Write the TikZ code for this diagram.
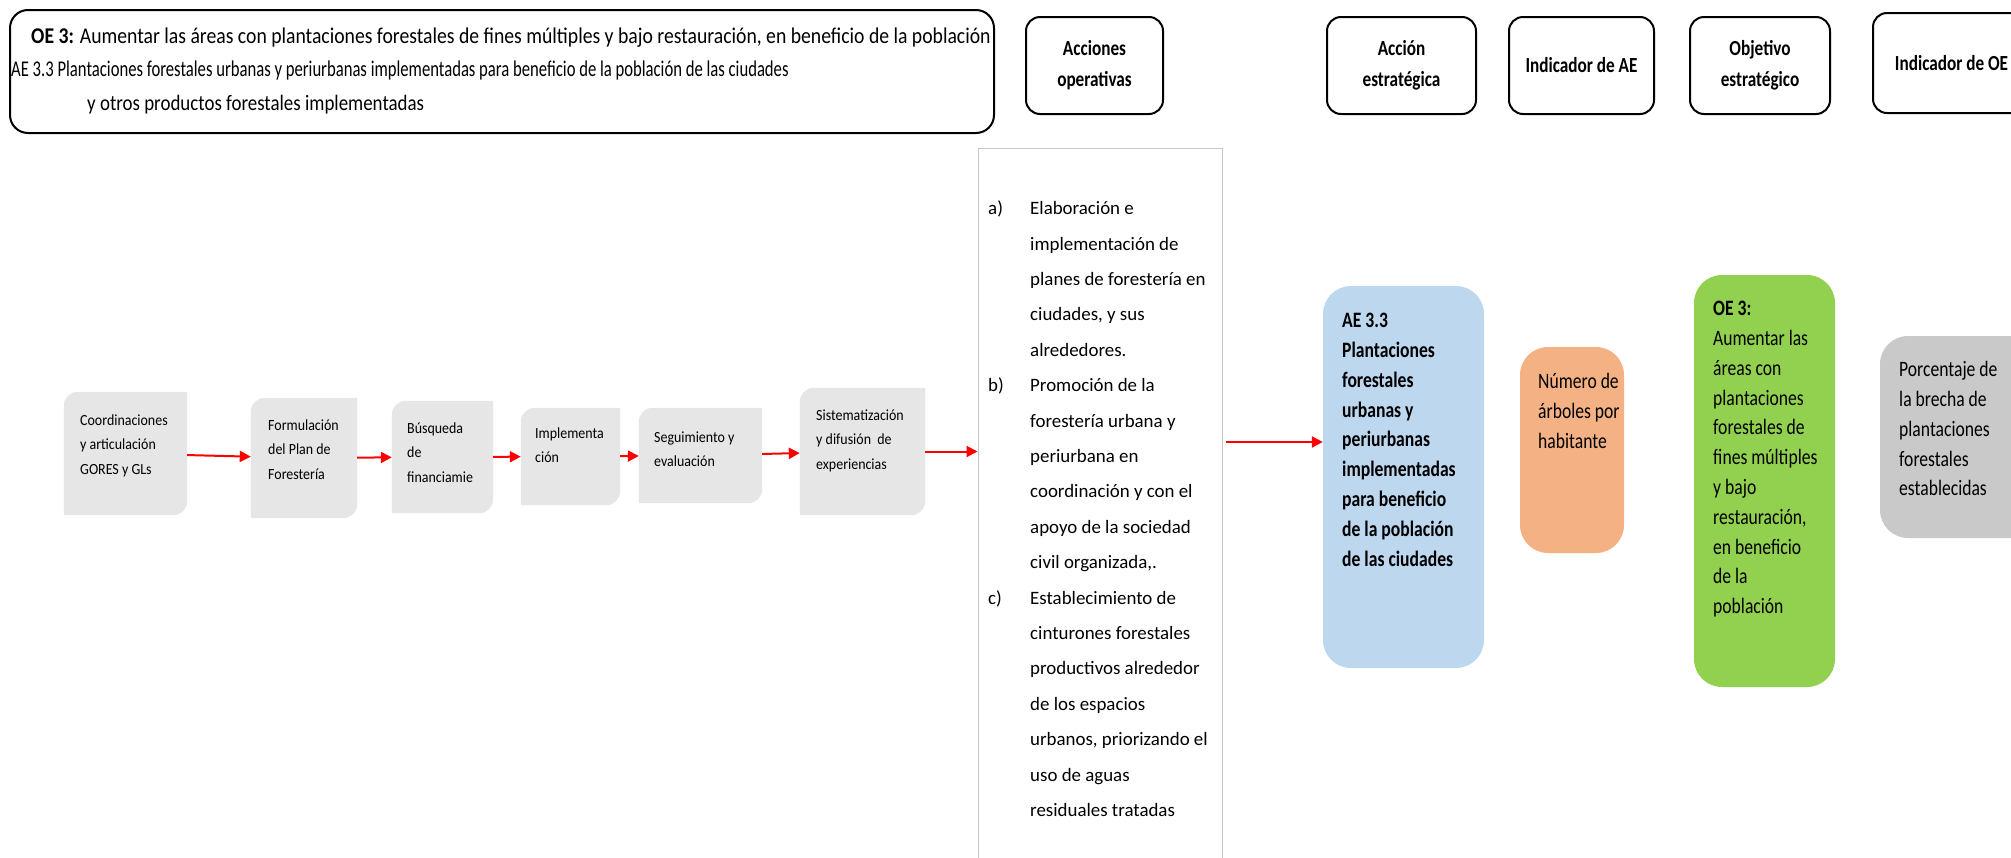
\documentclass[tikz,border=0pt]{standalone}
\usepackage{fontspec}
\setmainfont{Carlito}
\newfontfamily\narrowfont[FakeStretch=0.8]{Carlito}
\newfontfamily\titlefont[FakeStretch=0.86]{Carlito}
\newfontfamily\titlewidefont[FakeStretch=0.875]{Carlito}
\newfontfamily\narrowerfont[FakeStretch=0.74]{Carlito}
\newfontfamily\flowfont[FakeStretch=0.9]{Carlito}
\usetikzlibrary{arrows.meta}
\definecolor{flowgray}{HTML}{E7E6E6}
\definecolor{aeblue}{HTML}{BDD7EE}
\definecolor{indorange}{HTML}{F4B183}
\definecolor{oegreen}{HTML}{92D050}
\definecolor{ioegray}{HTML}{C9C9C9}
\newcommand{\boxlines}[1]{\begin{tabular}[t]{@{}l@{}}#1\end{tabular}}

\begin{document}
\begin{tikzpicture}[x=1pt, y=-1pt,
	hdr/.style={rectangle, draw=black, line width=2pt, rounded corners=14pt, align=center, inner sep=0pt,
		font=\narrowfont\fontsize{21.5}{31}\selectfont\bfseries},
	flow/.style={rectangle, inner sep=0pt},
	colbox/.style={rectangle, rounded corners=28pt, inner sep=0pt},
	txt/.style={anchor=base west, inner sep=0pt},
	flowtxt/.style={txt, font=\flowfont\fontsize{15.5}{24.5}\selectfont},
	coltxt/.style={txt, font=\narrowfont\fontsize{22}{29.8}\selectfont},
	link/.style={red, line width=2pt, -{Triangle[length=11pt, width=11pt]}}]
	\useasboundingbox (0,0) rectangle (2011,857);

	% title box
	\node (title) at (502,71.5) [rectangle, draw=black, line width=2pt, rounded corners=18pt,
		minimum width=984pt, minimum height=123pt] {};
	\node (l1) at (31,43) [txt, font=\titlewidefont\fontsize{22.5}{30}\selectfont]
		{\textbf{OE 3:} Aumentar las áreas con plantaciones forestales de fines múltiples y bajo restauración, en beneficio de la población};
	\node (l2) at (11,76) [txt, font=\narrowerfont\fontsize{22.5}{30}\selectfont]
		{AE 3.3 Plantaciones forestales urbanas y periurbanas implementadas para beneficio de la población de las ciudades};
	\node (l3) at (87,110) [txt, font=\titlefont\fontsize{22}{30}\selectfont]
		{y otros productos forestales implementadas};

	% column headers
	\node (hAO) at (1094.5,65.5) [hdr, minimum width=137pt, minimum height=97pt] {Acciones\\operativas};
	\node (hAE) at (1401.5,65.5) [hdr, minimum width=149pt, minimum height=97pt] {Acción\\estratégica};
	\node (hIAE) at (1581.5,65.5) [hdr, minimum width=145pt, minimum height=97pt] {Indicador de AE};
	\node (hOE) at (1760,65.5) [hdr, minimum width=140pt, minimum height=97pt] {Objetivo\\estratégico};
	\node (hIOE) at (1951.5,63) [hdr, minimum width=157pt, minimum height=100pt] {Indicador de OE};

	% process steps
	\node (f1) at (125.5,453.5) [flow, minimum width=123pt, minimum height=123pt] {};
	\node (f2) at (304,458) [flow, minimum width=106pt, minimum height=120pt] {};
	\node (f3) at (442.5,457) [flow, minimum width=101pt, minimum height=112pt] {};
	\node (f4) at (570.5,456.5) [flow, minimum width=99pt, minimum height=97pt] {};
	\node (f5) at (700.5,455.5) [flow, minimum width=123pt, minimum height=95pt] {};
	\node (f6) at (862.5,451.5) [flow, minimum width=125pt, minimum height=127pt] {};
	\foreach \n in {f1,f2,f3,f4,f5,f6}
		\fill[flowgray] (\n.north) -- (\n.north east) -- (\n.east) [rounded corners=14pt] -- (\n.south east)
			-- (\n.south) [sharp corners] -- (\n.south west) -- (\n.west) [rounded corners=14pt] -- (\n.north west) -- cycle;
	\node (t1) at (80,425) [flowtxt] {\boxlines{Coordinaciones\\y articulación\\GORES y GLs}};
	\node (t2) at (268,430) [flowtxt] {\boxlines{Formulación\\del Plan de\\Forestería}};
	\node (t3) at (407,433) [flowtxt] {\boxlines{Búsqueda\\de\\financiamie}};
	\node (t4) at (535,438) [flowtxt] {\boxlines{Implementa\\ción}};
	\node (t5) at (654,442) [flowtxt] {\boxlines{Seguimiento y\\evaluación}};
	\node (t6) at (816,420) [flowtxt] {\boxlines{Sistematización\\y difusión\ \ de\\experiencias}};

	% operative actions
	\node (ops) at (1100,514) [rectangle, draw=gray!45, line width=1pt, minimum width=244pt, minimum height=732pt] {};
	\node (lst) at (988,214.7) [txt, font=\fontsize{18.9}{35.4}\selectfont]
		{\begin{tabular}[t]{@{}p{42pt}@{}l@{}}
			a) & Elaboración e\\
			   & implementación de\\
			   & planes de forestería en\\
			   & ciudades, y sus\\
			   & alrededores.\\
			b) & Promoción de la\\
			   & forestería urbana y\\
			   & periurbana en\\
			   & coordinación y con el\\
			   & apoyo de la sociedad\\
			   & civil organizada,.\\
			c) & Establecimiento de\\
			   & cinturones forestales\\
			   & productivos alrededor\\
			   & de los espacios\\
			   & urbanos, priorizando el\\
			   & uso de aguas\\
			   & residuales tratadas
		\end{tabular}};

	% strategic boxes
	\node (ae) at (1403.5,477) [colbox, fill=aeblue, minimum width=161pt, minimum height=382pt] {};
	\node (ind) at (1572,450) [colbox, fill=indorange, minimum width=104pt, minimum height=206pt] {};
	\node (oe) at (1764.5,481) [colbox, fill=oegreen, minimum width=141pt, minimum height=412pt] {};
	\node (ioe) at (1960,437) [colbox, fill=ioegray, minimum width=160pt, minimum height=202pt] {};
	\node (aeT) at (1342,327.6) [coltxt] {\bfseries\boxlines{AE 3.3\\Plantaciones\\forestales\\urbanas y\\
		periurbanas\\implementadas\\para beneficio\\de la población\\de las ciudades}};
	\node (indT) at (1538,388.6) [coltxt] {\boxlines{Número de\\árboles por\\habitante}};
	\node (oeT) at (1713,315.6) [coltxt] {\boxlines{\textbf{OE 3:}\\Aumentar las\\áreas con\\plantaciones\\forestales de\\fines múltiples\\
		y bajo\\restauración,\\en beneficio\\de la\\población}};
	\node (ioeT) at (1899,376.6) [coltxt] {\boxlines{Porcentaje de\\la brecha de\\plantaciones\\forestales\\establecidas}};

	% connectors
	\draw[link] (f1) -- (f2);
	\draw[link] (f2) -- (f3);
	\draw[link] (f3) -- (f4);
	\draw[link] (f4) -- (f5);
	\draw[link] (f5) -- (f6);
	\draw[link] (f6) -- (f6 -| ops.west);
	\coordinate (vout) at (1226,442);
	\draw[link] (vout) -- (vout -| ae.west);
\end{tikzpicture}
\end{document}
